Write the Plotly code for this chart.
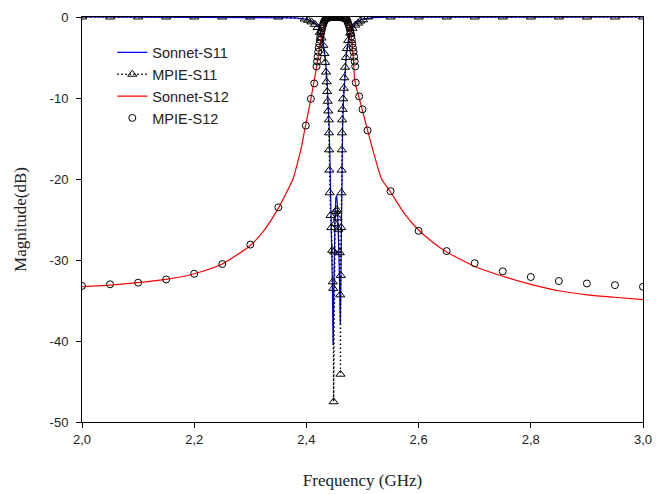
import plotly.graph_objects as go

# ---------------- data ----------------
sonnet_s11_f = [2.00, 2.30, 2.38, 2.40, 2.41, 2.42, 2.425, 2.43, 2.434, 2.437, 2.439, 2.4405,
                2.442, 2.4435, 2.445, 2.4465, 2.4475, 2.4485, 2.4495, 2.451, 2.4525, 2.454,
                2.4555, 2.457, 2.4585, 2.4605, 2.4615, 2.4625, 2.4635, 2.4645, 2.466, 2.468,
                2.471, 2.475, 2.48, 2.49, 2.50, 2.52, 2.55, 3.00]
sonnet_s11_db = [0.0, -0.02, -0.1, -0.25, -0.5, -1.1, -1.8, -3.2, -5.2, -8.0, -10.8, -13.5,
                 -17.5, -22.0, -27.5, -34.0, -40.5, -34.0, -28.5, -24.5, -22.3, -22.0,
                 -23.5, -26.5, -31.0, -38.0, -31.0, -24.0, -18.5, -14.0, -10.5, -7.5,
                 -4.8, -2.8, -1.5, -0.6, -0.25, -0.08, -0.02, 0.0]

mpie_s11_f = [2.00, 2.05, 2.10, 2.15, 2.20, 2.25, 2.30, 2.35,
              2.397, 2.403, 2.409, 2.415, 2.420, 2.424, 2.427, 2.430, 2.432, 2.4335,
              2.435, 2.436, 2.437, 2.438, 2.439, 2.440, 2.4403, 2.4406, 2.441, 2.4415,
              2.443, 2.4445, 2.446, 2.447, 2.4478, 2.4485, 2.4495, 2.451, 2.4525, 2.454,
              2.4555, 2.457, 2.4595, 2.4603, 2.4607, 2.4612, 2.462, 2.4625, 2.4627, 2.4630,
              2.4633, 2.4637, 2.4645, 2.4655, 2.4665, 2.4675, 2.469, 2.4705, 2.472, 2.4745,
              2.478, 2.482, 2.487, 2.492, 2.496, 2.501, 2.510,
              2.55, 2.60, 2.65, 2.70, 2.75, 2.80, 2.85, 2.90, 2.95, 3.00]
mpie_s11_db = [0.0, 0.0, 0.0, 0.0, 0.0, 0.0, 0.0, 0.0,
               -0.25, -0.4, -0.6, -0.9, -1.3, -1.9, -2.6, -3.5, -4.5, -5.6,
               -6.8, -8.0, -9.2, -10.4, -11.6, -12.7, -14.3, -16.4, -18.9, -21.7,
               -24.5, -26.0, -28.8, -32.7, -33.5, -47.5, -29.0, -25.5, -24.0, -23.8,
               -24.8, -26.2, -29.1, -34.3, -44.1, -31.9, -26.0, -21.7, -18.9, -16.4,
               -14.3, -12.7, -11.4, -10.1, -8.8, -7.5, -6.2, -5.0, -3.9, -2.9,
               -2.0, -1.4, -1.0, -0.75, -0.5, -0.35, 0.0,
               0.0, 0.0, 0.0, 0.0, 0.0, 0.0, 0.0, 0.0, 0.0, 0.0]

sonnet_s12_f = [2.00, 2.05, 2.10, 2.15, 2.20, 2.25, 2.30, 2.325, 2.35, 2.365, 2.376, 2.385,
                2.392, 2.397, 2.405, 2.412, 2.418, 2.422, 2.426, 2.430, 2.434, 2.438, 2.445,
                2.455, 2.465, 2.470, 2.474, 2.478, 2.481, 2.484, 2.486, 2.490, 2.494, 2.500,
                2.508, 2.520, 2.534, 2.55, 2.575, 2.60, 2.625, 2.65, 2.70, 2.75, 2.80, 2.85,
                2.90, 2.95, 3.00]
sonnet_s12_db = [-33.3, -33.1, -32.8, -32.4, -31.7, -30.5, -28.2, -26.3, -23.6, -21.6, -20.0, -17.8,
                 -15.8, -13.9, -11.2, -8.6, -6.2, -4.4, -2.8, -1.5, -0.7, -0.3, -0.05,
                 0.0, -0.05, -0.2, -0.6, -1.5, -3.0, -5.5, -7.7, -9.0, -10.0, -11.6,
                 -13.7, -16.8, -20.0, -21.6, -24.3, -26.3, -27.8, -29.0, -30.8, -32.0, -33.0, -33.8,
                 -34.3, -34.6, -34.9]

mpie_s12_f = [2.00, 2.05, 2.10, 2.15, 2.20, 2.25, 2.30, 2.35, 2.399, 2.408, 2.414,
              2.418, 2.419, 2.420, 2.421, 2.422, 2.423, 2.424, 2.425, 2.426, 2.427, 2.428,
              2.429, 2.430, 2.431, 2.432, 2.433, 2.434, 2.435, 2.436, 2.437,
              2.438, 2.440, 2.442, 2.444, 2.446, 2.448, 2.450, 2.452, 2.454, 2.456,
              2.458, 2.460, 2.462, 2.464, 2.466, 2.468,
              2.469, 2.470, 2.471, 2.472, 2.473, 2.474, 2.475, 2.476, 2.477, 2.478,
              2.479, 2.480, 2.481, 2.482, 2.483, 2.484, 2.485, 2.486, 2.487,
              2.488, 2.494, 2.500, 2.509, 2.55, 2.60, 2.65, 2.70, 2.75, 2.80, 2.85,
              2.90, 2.95, 3.00]
mpie_s12_db = [-33.2, -33.0, -32.8, -32.4, -31.7, -30.5, -28.1, -23.5, -13.4, -10.1, -8.2,
               -6.1, -5.5, -4.9, -4.3, -3.8, -3.3, -2.8, -2.4, -2.0, -1.7, -1.4,
               -1.1, -0.9, -0.7, -0.5, -0.4, -0.3, -0.2, -0.15, -0.1,
               -0.1, -0.05, -0.05, 0.0, 0.0, 0.0, 0.0, 0.0, 0.0, 0.0,
               0.0, 0.0, -0.05, -0.05, -0.1, -0.1,
               -0.15, -0.2, -0.3, -0.4, -0.5, -0.7, -0.9, -1.1, -1.4, -1.7,
               -2.0, -2.4, -2.8, -3.3, -3.8, -4.3, -4.9, -5.5, -6.1,
               -8.1, -9.8, -11.4, -14.0, -21.5, -26.4, -28.9, -30.4, -31.4, -32.1, -32.6,
               -32.9, -33.1, -33.3]

x_tick_vals = [2.0, 2.2, 2.4, 2.6, 2.8, 3.0]
x_tick_text = ["2,0", "2,2", "2,4", "2,6", "2,8", "3,0"]
y_tick_vals = [0, -10, -20, -30, -40, -50]
y_tick_text = ["0", "-10", "-20", "-30", "-40", "-50"]

# ---------------- figure ----------------
fig = go.Figure()
fig.add_trace(go.Scatter(x=sonnet_s11_f, y=sonnet_s11_db, mode="lines", name="Sonnet-S11",
                         line=dict(color="#0000ff", width=1.2)))
fig.add_trace(go.Scatter(x=mpie_s11_f, y=mpie_s11_db, mode="lines+markers", name="MPIE-S11",
                         line=dict(color="black", width=1.4, dash="1.5px,2.5px"),
                         marker=dict(symbol="triangle-up-open", size=8, color="black",
                                     line=dict(width=1, color="black"))))
fig.add_trace(go.Scatter(x=sonnet_s12_f, y=sonnet_s12_db, mode="lines", name="Sonnet-S12",
                         line=dict(color="#ff0000", width=1.2, shape="spline", smoothing=0.6)))
fig.add_trace(go.Scatter(x=mpie_s12_f, y=mpie_s12_db, mode="markers", name="MPIE-S12",
                         marker=dict(symbol="circle-open", size=7, color="black",
                                     line=dict(width=1, color="black"))))

axis_font = dict(family="Liberation Sans, Arial, sans-serif", size=13, color="#222")
title_font = dict(family="Liberation Serif, Times New Roman, serif", size=17, color="#222")

fig.update_layout(
    width=661, height=486,
    margin=dict(l=74, r=26, t=9, b=72, autoexpand=False),
    paper_bgcolor="white", plot_bgcolor="white",
    showlegend=True,
    legend=dict(x=0.054, y=0.952, xanchor="left", yanchor="top",
                bgcolor="rgba(0,0,0,0)", borderwidth=0,
                font=dict(family="Liberation Sans, Arial, sans-serif", size=14.5, color="#222"),
                tracegroupgap=0),
    xaxis=dict(range=[2.0, 3.0], tickmode="array", tickvals=x_tick_vals, ticktext=x_tick_text,
               showgrid=False, zeroline=False, showline=True, linecolor="black", linewidth=1,
               mirror=True, ticks="outside", ticklen=5, tickcolor="black", tickfont=axis_font,
               automargin=False,
               title=dict(text="Frequency (GHz)", font=title_font, standoff=28)),
    yaxis=dict(range=[-50, 0], tickmode="array", tickvals=y_tick_vals, ticktext=y_tick_text,
               showgrid=False, zeroline=False, showline=True, linecolor="black", linewidth=1,
               mirror=True, ticks="outside", ticklen=5, tickcolor="black", tickfont=axis_font,
               automargin=False, ticklabelstandoff=5,
               title=dict(text="Magnitude(dB)", font=title_font, standoff=18)),
)

fig.write_html("out.html")
